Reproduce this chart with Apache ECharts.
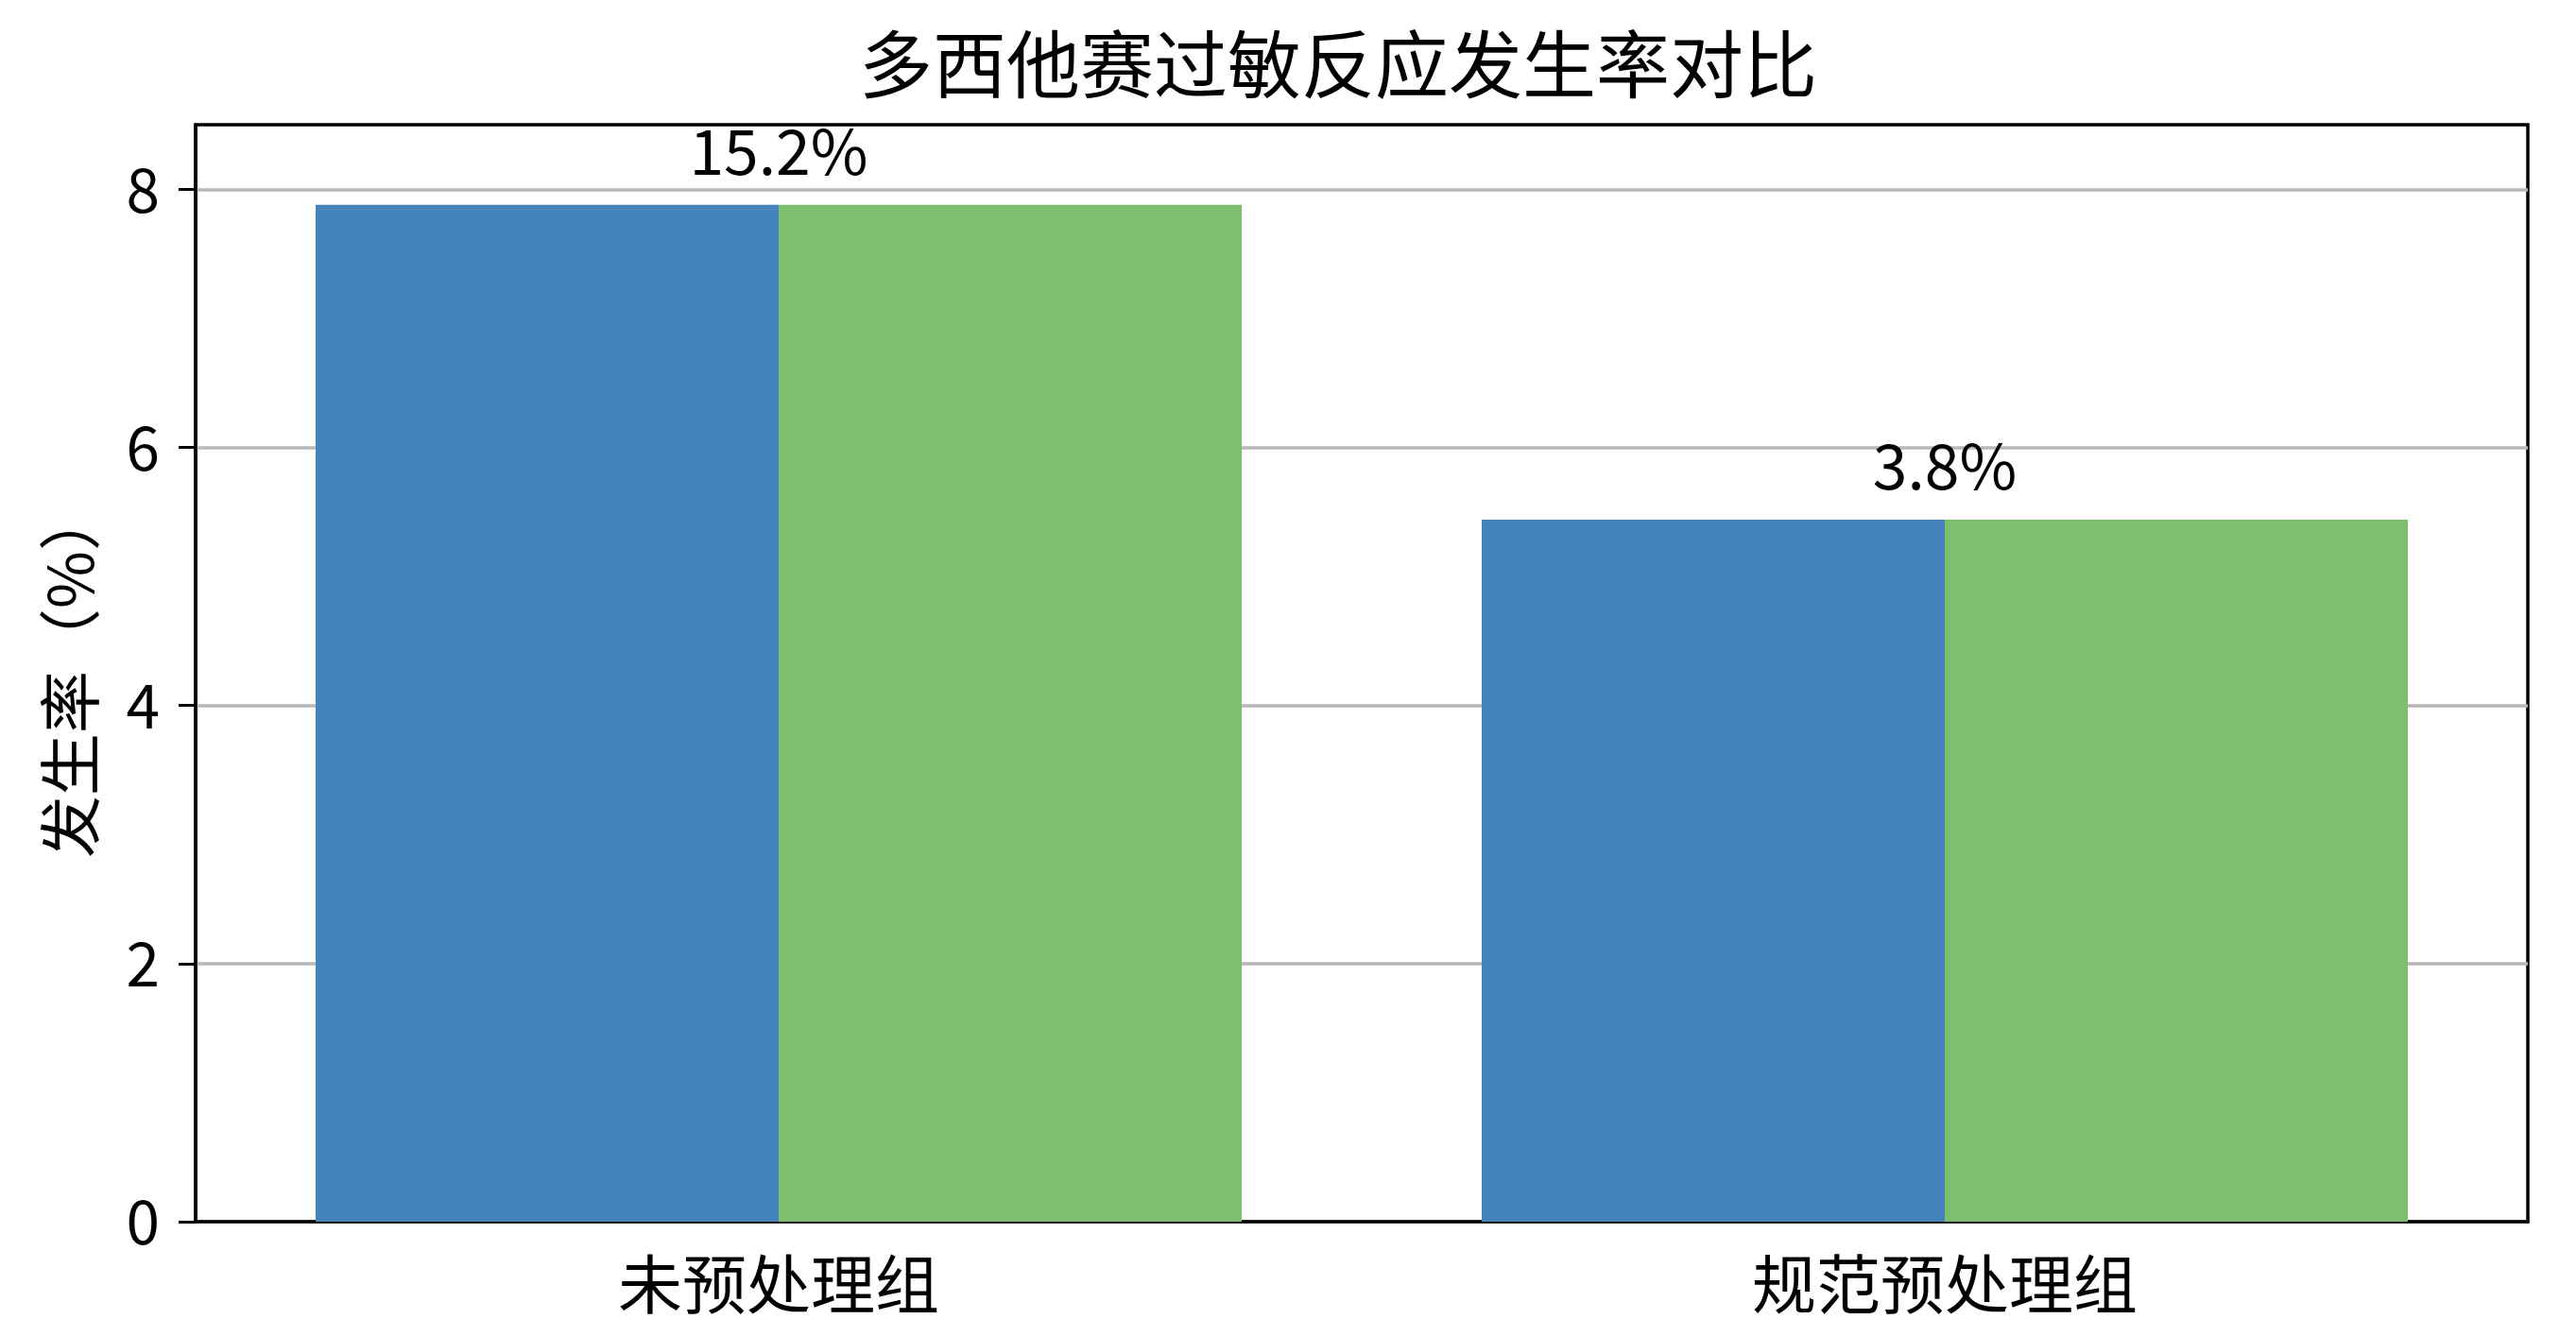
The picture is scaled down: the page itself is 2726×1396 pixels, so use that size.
<!DOCTYPE html>
<html>
<head>
<meta charset="utf-8">
<title>多西他赛过敏反应发生率对比</title>
<script src="https://cdn.jsdelivr.net/npm/echarts@6/dist/echarts.min.js"></script>
<style>
  html, body { margin: 0; padding: 0; background: #fff; }
  #main { width: 2726px; height: 1396px; }
</style>
</head>
<body>
<div id="main"></div>
<script>
// 数据
const categories = ['未预处理组', '规范预处理组']
const blueValues = [7.88, 5.44]
const greenValues = [7.88, 5.44]
const rateLabels = ['15.2%', '3.8%']
const yTicks = [0, 2, 4, 6, 8]

const FONT = '"Noto Sans CJK SC", "Noto Sans", sans-serif'
const BAR_W = 490

const chartDom = document.getElementById('main')
const myChart = echarts.init(chartDom)

const option = {
  backgroundColor: '#fff',
  animation: false,
  title: {
    text: '多西他赛过敏反应发生率对比',
    left: 1411,
    textAlign: 'center',
    top: 24,
    textStyle: { fontFamily: FONT, fontSize: 78, fontWeight: 'normal', color: '#000' },
  },
  grid: {
    left: 207,
    right: 51,
    top: 132,
    bottom: 103,
    show: true,
    borderColor: '#000',
    borderWidth: 3.5,
    backgroundColor: 'transparent',
  },
  xAxis: {
    type: 'category',
    data: categories,
    axisLine: { lineStyle: { color: '#000', width: 3.5 } },
    axisTick: { alignWithLabel: true, length: 18, lineStyle: { color: '#000', width: 3 } },
    axisLabel: { fontFamily: FONT, fontSize: 68, color: '#000', margin: 32 },
  },
  yAxis: {
    type: 'value',
    min: 0,
    max: 8.5,
    interval: 2,
    name: '发生率（%）',
    nameLocation: 'middle',
    nameGap: 100,
    nameTextStyle: { fontFamily: FONT, fontSize: 66, color: '#000' },
    axisLine: { show: true, lineStyle: { color: '#000', width: 3.5 } },
    axisTick: { show: true, length: 18, customValues: yTicks, lineStyle: { color: '#000', width: 3 } },
    axisLabel: { fontFamily: FONT, fontSize: 64, color: '#000', margin: 38, customValues: yTicks },
    splitLine: { lineStyle: { color: '#b8b8b8', width: 3.5 } },
  },
  series: [
    {
      type: 'bar',
      data: blueValues,
      barWidth: BAR_W,
      barGap: '0%',
      itemStyle: { color: '#4583bd' },
      label: {
        show: true,
        position: 'top',
        distance: 24,
        offset: [BAR_W / 2, 0],
        fontFamily: FONT,
        fontSize: 66,
        color: '#000',
        formatter: (p) => rateLabels[p.dataIndex],
      },
    },
    {
      type: 'bar',
      data: greenValues,
      barWidth: BAR_W,
      barGap: '0%',
      itemStyle: { color: '#7dbf6c' },
    },
  ],
}

option && myChart.setOption(option)
</script>
</body>
</html>
